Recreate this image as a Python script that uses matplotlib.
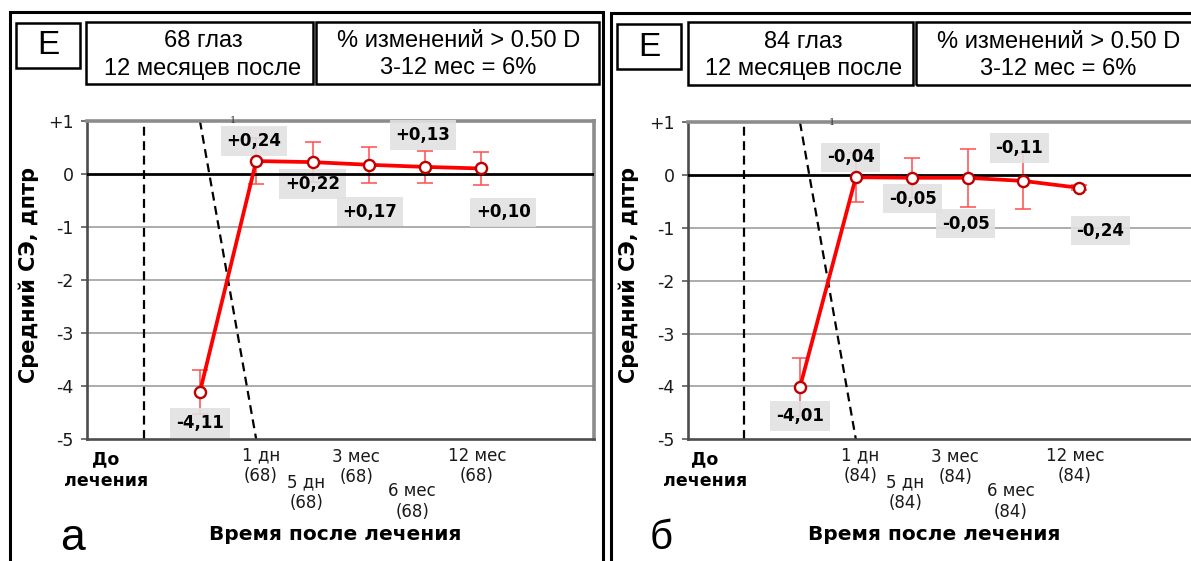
import matplotlib
matplotlib.use("Agg")
import matplotlib.pyplot as plt
from matplotlib.patches import Rectangle
from matplotlib import transforms

plt.rcParams['font.family'] = ['DejaVu Sans']

# category index of each measurement (0 = before treatment column)
x_pos = [2, 3, 4, 5, 6, 7]

left_means = [-4.11, 0.24, 0.22, 0.17, 0.13, 0.10]
left_err = [0.42, 0.43, 0.38, 0.34, 0.30, 0.31]
left_labels = ["-4,11", "+0,24", "+0,22", "+0,17", "+0,13", "+0,10"]
left_n = 68

right_means = [-4.01, -0.04, -0.05, -0.05, -0.11, -0.24]
right_err = [0.54, 0.46, 0.38, 0.55, 0.53, 0.05]
right_labels = ["-4,01", "-0,04", "-0,05", "-0,05", "-0,11", "-0,24"]
right_n = 84

periods = ["1 дн", "5 дн", "3 мес", "6 мес", "12 мес"]
yticks = [-5, -4, -3, -2, -1, 0, 1]
ytick_labels = ["-5", "-4", "-3", "-2", "-1", "0", "+1"]

W, H = 1191, 561
fig = plt.figure(figsize=(W / 100, H / 100), dpi=100)


def fx(x):
    return x / W


def fy(y):
    return 1 - y / H


def frame(x0, y0, x1, y1, lw=1.8):
    fig.add_artist(Rectangle((fx(x0), fy(y1)), (x1 - x0) / W, (y1 - y0) / H,
                             transform=fig.transFigure, fill=False,
                             ec='black', lw=lw, clip_on=False))


def panel(x0, y_top, unit_w, xmax, means, err, labels, n, offsets,
          tick_k, tick_y, before_k, letter, letter_x, letter_size, ylab_x):
    y_bot = 439.3
    ax = fig.add_axes([fx(x0), fy(y_bot), unit_w * xmax / W, (y_bot - y_top) / H])
    ax.set_xlim(0, xmax)
    ax.set_ylim(-5, 1)
    ax.set_xticks([])
    ax.set_yticks(yticks)
    ax.set_yticklabels(ytick_labels)
    ax.tick_params(axis='y', length=4, width=1.2, color='#595959', pad=6,
                   labelsize=12.5, labelcolor='#1a1a1a')
    for s in ['top', 'right']:
        ax.spines[s].set_color('#8c8c8c')
        ax.spines[s].set_linewidth(2.6)
    for s in ['left', 'bottom']:
        ax.spines[s].set_color('#4d4d4d')
        ax.spines[s].set_linewidth(1.9)
    for g in [-4, -3, -2, -1]:
        ax.axhline(g, color='#a6a6a6', lw=1.3, zorder=1)
    ax.axhline(0, color='black', lw=2.0, zorder=4.5)

    # dashed markers of the treatment start
    ax.plot([1, 1], [-5, 1], color='black', lw=1.6, dashes=(4, 2.5), zorder=2)
    ax.plot([2, 3], [1, -5], color='black', lw=1.6, dashes=(4, 2.5), zorder=2)
    ax.text(2.58, 1.0, "1", fontsize=7, ha='center', va='center',
            family='DejaVu Serif', color='#333333')

    ax.errorbar(x_pos, means, yerr=err, fmt='none', ecolor='#ff4d4d',
                elinewidth=1.1, capsize=5.5, capthick=1.1, zorder=3)
    ax.plot(x_pos, means, color='#ff0000', lw=2.7, marker='o', ms=8,
            mfc='white', mec='#c00000', mew=1.7, zorder=5)

    for xi, m, lbl, (dx, dy) in zip(x_pos, means, labels, offsets):
        ax.annotate(lbl, xy=(xi, m), xytext=(dx, dy), textcoords='offset pixels',
                    ha='center', va='center', fontsize=12, fontweight='bold',
                    bbox=dict(boxstyle='square,pad=0.34', fc='#e1e1e1',
                              ec='none', alpha=0.9), zorder=4)

    tr = transforms.blended_transform_factory(ax.transData, fig.transFigure)
    for k, yc, p in zip(tick_k, tick_y, periods):
        ax.text(k, fy(yc), f"{p}\n({n})", transform=tr, ha='center', va='center',
                fontsize=12, linespacing=1.2, color='#1a1a1a')
    ax.text(before_k, fy(470), "До\nлечения", transform=tr, ha='center',
            va='center', fontsize=12.5, fontweight='bold', linespacing=1.25)
    ax.text(4.4, fy(535), "Время после лечения", transform=tr, ha='center',
            va='center', fontsize=14.5, fontweight='bold')
    fig.text(fx(ylab_x), fy(275), "Средний СЭ, дптр", rotation=90, ha='center',
             va='center', fontsize=15, fontweight='bold')
    fig.text(fx(letter_x), fy(538), letter, ha='center', va='center',
             fontsize=letter_size, family='Liberation Sans')
    return ax


left_offsets = [(0, -31), (-2, 20), (0, -22), (1, -47), (-2, 32), (22, -44)]
right_offsets = [(0, -29), (-5, 20), (1, -21), (-2, -46), (-4, 33), (21, -43)]
tick_k = [3.08, 3.89, 4.78, 5.77, 6.92]
tick_y = [465.5, 493, 467, 501.5, 466]

panel(87.3, 120.7, 56.3, 9, left_means, left_err, left_labels, left_n,
      left_offsets, tick_k, tick_y, 0.33, "а", 73, 32, 28.5)
panel(688.3, 122.3, 55.85, 9.05, right_means, right_err, right_labels, right_n,
      right_offsets, tick_k, tick_y, 0.30, "б", 661, 29, 628.5)

# outer frames
frame(9.5, 12, 603, 575, lw=2.2)
frame(611, 13, 1200, 575, lw=2.2)

# header boxes
hdr = dict(ha='center', va='center', family='Liberation Sans', fontsize=17)
frame(16, 23, 80, 68)
fig.text(fx(48), fy(46), "E", ha='center', va='center', family='Liberation Sans', fontsize=24)
frame(86.5, 22, 312.5, 84)
fig.text(fx(203), fy(41), f"{left_n} глаз", **hdr)
fig.text(fx(203), fy(68.5), "12 месяцев после", **hdr)
frame(316, 22, 599, 84)
fig.text(fx(458.5), fy(41), "% изменений > 0.50 D", **hdr)
fig.text(fx(458.5), fy(68.5), "3-12 мес = 6%", **hdr)

frame(617, 24, 680.5, 69)
fig.text(fx(649), fy(47), "E", ha='center', va='center', family='Liberation Sans', fontsize=24)
frame(687.5, 22.5, 912.5, 85)
fig.text(fx(803.5), fy(42), f"{right_n} глаз", **hdr)
fig.text(fx(803.5), fy(69), "12 месяцев после", **hdr)
frame(916, 22.5, 1205, 85)
fig.text(fx(1058.5), fy(42), "% изменений > 0.50 D", **hdr)
fig.text(fx(1058.5), fy(69), "3-12 мес = 6%", **hdr)

fig.savefig("out.png", dpi=100)
